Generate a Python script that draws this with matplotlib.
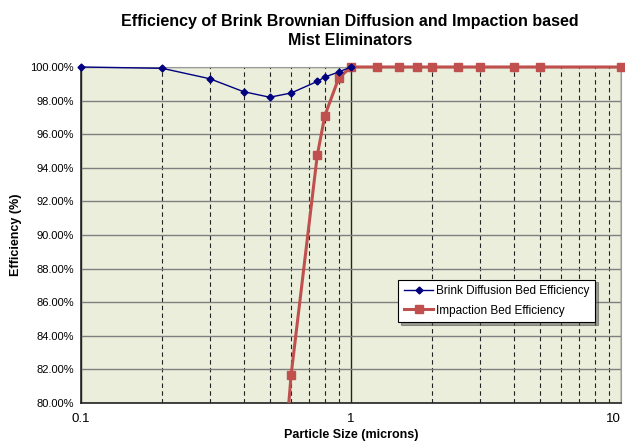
import numpy as np
import matplotlib.pyplot as plt
from matplotlib.ticker import FixedLocator, NullFormatter, FuncFormatter
from matplotlib.transforms import Bbox, TransformedBbox

plt.rcParams['font.family'] = ['Liberation Sans', 'DejaVu Sans']

# Brink diffusion bed data
brink_size = [0.1, 0.2, 0.3, 0.4, 0.5, 0.6, 0.75, 0.8, 0.9, 1.0]
brink_eff = [100.0, 99.92, 99.3, 98.53, 98.2, 98.45, 99.14, 99.4, 99.7, 100.0]

# Impaction bed data (0.5 point lies below the axis)
imp_size = [0.5, 0.6, 0.75, 0.8, 0.9, 1.0, 1.25, 1.5, 1.75, 2.0, 2.5, 3.0, 4.0, 5.0, 10.0]
imp_eff = [66.0, 81.67, 94.74, 97.1, 99.33, 100.0, 100.0, 100.0, 100.0, 100.0,
           100.0, 100.0, 100.0, 100.0, 100.0]

y_ticks = [80, 82, 84, 86, 88, 90, 92, 94, 96, 98, 100]

fig = plt.figure(figsize=(6.25, 4.43), dpi=100)
ax = fig.add_axes([0.1296, 0.0903, 0.864, 0.7585])
ax.set_facecolor('#EAEEDA')

ax.set_xscale('log')
ax.set_xlim(0.1, 10)
ax.set_ylim(80, 100)

ax.xaxis.set_major_locator(FixedLocator([0.1, 1, 10]))
ax.xaxis.set_minor_locator(FixedLocator([0.2, 0.3, 0.4, 0.5, 0.6, 0.7, 0.8, 0.9,
                                         2, 3, 4, 5, 6, 7, 8, 9]))
ax.xaxis.set_major_formatter(FuncFormatter(lambda v, p: '%g' % v))
ax.xaxis.set_minor_formatter(NullFormatter())
ax.set_yticks(y_ticks)
ax.yaxis.set_major_formatter(FuncFormatter(lambda v, p: '%.2f%%' % v))

ax.grid(axis='y', which='major', color='#7f7f7f', linewidth=1.0)
ax.grid(axis='x', which='major', color='#222222', linewidth=1.0)
ax.grid(axis='x', which='minor', color='#222222', linewidth=0.8, linestyle=(0, (4, 3)))
ax.set_axisbelow(True)
ax.tick_params(which='both', length=0, labelsize=8, pad=5)
ax.tick_params(axis='x', labelsize=9.5, pad=7)

for s in ['top', 'right']:
    ax.spines[s].set_color('#9a9a9a')
for s in ['left', 'bottom']:
    ax.spines[s].set_color('#222222')
    ax.spines[s].set_linewidth(1.2)

# clip only at the bottom/sides so markers on the 100% line show in full
clip = TransformedBbox(Bbox([[-0.02, 0.0], [1.02, 1.06]]), ax.transAxes)

l1, = ax.plot(brink_size, brink_eff, color='#000080', linewidth=1.0, marker='D',
              markersize=3.5, label='Brink Diffusion Bed Efficiency', zorder=4)
l2, = ax.plot(imp_size, imp_eff, color='#C0504D', linewidth=2.2, marker='s',
              markersize=6, label='Impaction Bed Efficiency', zorder=3)
for ln in (l1, l2):
    ln.set_clip_box(clip)

fig.canvas.draw()
xt = ax.get_xticklabels()
xt[-1].set_horizontalalignment('right')
xt[-1].set_x(10)

ax.set_xlabel('Particle Size (microns)', fontsize=9, fontweight='bold', labelpad=3)
ax.set_ylabel('Efficiency (%)', fontsize=9, fontweight='bold', labelpad=6)
fig.suptitle('Efficiency of Brink Brownian Diffusion and Impaction based\nMist Eliminators',
             x=0.56, y=0.968, fontsize=11.5, fontweight='bold', linespacing=1.35)

leg = ax.legend(loc='upper left', bbox_to_anchor=(0.576, 0.385), fontsize=8.5,
                frameon=True, fancybox=False, shadow=True, handlelength=2.5,
                borderpad=0.5, labelspacing=0.6, handletextpad=0.2)
leg.get_frame().set_edgecolor('#000000')
leg.get_frame().set_linewidth(0.8)

fig.savefig('out.png', dpi=100)
